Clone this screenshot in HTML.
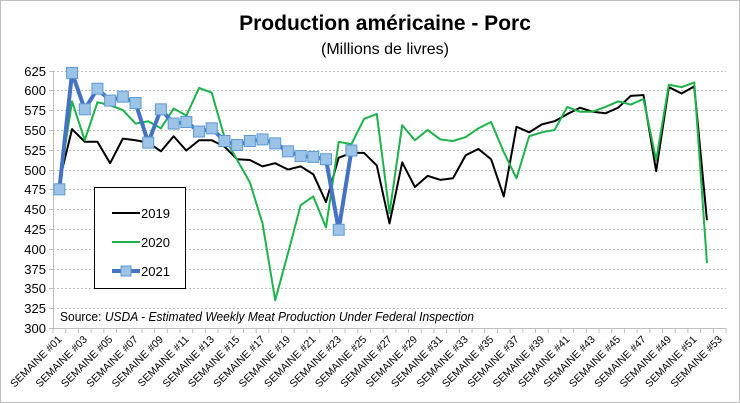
<!DOCTYPE html>
<html><head><meta charset="utf-8"><style>
body{margin:0;background:#fff}
svg{display:block;font-family:"Liberation Sans",sans-serif}
</style></head><body>
<svg id="c" width="740" height="403">
<rect x="0.5" y="0.5" width="739" height="402" fill="#fff" stroke="#bfbfbf"/>
<text x="385" y="30" text-anchor="middle" font-size="21" font-weight="bold">Production américaine - Porc</text>
<text x="385" y="54" text-anchor="middle" font-size="16">(Millions de livres)</text>
<g id="grid"></g><g id="axes"></g><g id="series"></g>
<text x="60" y="321" font-size="12.5" textLength="414" lengthAdjust="spacingAndGlyphs">Source: <tspan font-style="italic">USDA - Estimated Weekly Meat Production Under Federal Inspection</tspan></text>
<g>
<rect x="94.5" y="187.5" width="91" height="101" fill="#fff" stroke="#000"/>
<line x1="112" y1="213" x2="140" y2="213" stroke="#000" stroke-width="2"/>
<text x="141" y="218" font-size="13">2019</text>
<line x1="112" y1="242" x2="140" y2="242" stroke="#1db34a" stroke-width="2"/>
<text x="141" y="247" font-size="13">2020</text>
<line x1="112" y1="271" x2="140" y2="271" stroke="#4472c4" stroke-width="4"/>
<rect x="121" y="266" width="10" height="10" fill="#9dc3e6" stroke="#5b9bd5"/>
<text x="141" y="276" font-size="13">2021</text>
</g>
</svg>
<script>
const yTicks=[300,325,350,375,400,425,450,475,500,525,550,575,600,625];
const s2019=[485,551,535,535,508,539,537,534,523,542,524,537,537,529,513,512,504,508,500,504,494,459,515,521,521,505,432,509,478,492,487,489,518,526,513,466,554,547,557,561,570,578,573,571,578,593,594,498,604,596,605,436];
const s2020=[482,586,537,585,581,575,558,561,552,577,568,603,597,541,512,484,432,335,394,455,466,427,535,532,564,570,445,556,537,550,538,536,541,552,560,522,489,542,547,550,579,573,573,579,586,582,589,512,607,604,610,382];
const s2021=[475,622,576,602,587,592,584,534,576,558,560,548,552,536,531,536,538,533,523,517,516,513,424,524];
const nCat=53;
const X0=53,X1=726,Y0=328,Y1=70.5;
const xs=i=>X0+(i+0.5)*(X1-X0)/nCat;
const ys=v=>Y0-(v-300)/(625-300)*(Y0-Y1);
const NS='http://www.w3.org/2000/svg';
function mk(t,a,p){const e=document.createElementNS(NS,t);for(const k in a)e.setAttribute(k,a[k]);p.appendChild(e);return e;}
const grid=document.getElementById('grid'),axes=document.getElementById('axes'),ser=document.getElementById('series');
yTicks.forEach(v=>{
 const y=Math.round(ys(v))+0.5;
 if(v>300){const g=mk('line',{x1:X0,x2:X1,y1:y,y2:y,stroke:'#bfbfbf','stroke-dasharray':'2,2'},grid);
 
 }
 const t=mk('text',{x:46,y:y+4.5,'text-anchor':'end','font-size':13},axes);t.textContent=v;
 
 
 const tk=mk('line',{x1:X0-4,x2:X0,y1:y,y2:y,stroke:'#bfbfbf'},axes);
 
 
});
const ya=mk('line',{x1:X0+0.5,x2:X0+0.5,y1:Y1,y2:Y0,stroke:'#bfbfbf'},axes);


const xa=mk('line',{x1:X0,x2:X1,y1:Y0+0.5,y2:Y0+0.5,stroke:'#bfbfbf'},axes);


for(let i=0;i<=nCat;i++){const x=X0+i*(X1-X0)/nCat;
 const tk=mk('line',{x1:x,x2:x,y1:Y0,y2:Y0+5,stroke:'#bfbfbf'},axes);
 
 }
for(let i=0;i<nCat;i+=2){const x=xs(i)+3,y=Y0+12;
 const t=mk('text',{x:x,y:y,'text-anchor':'end','font-size':10.5,transform:`rotate(-45 ${x} ${y})`},axes);
 t.textContent='SEMAINE #'+String(i+1).padStart(2,'0');
 
 }
function line(d,col,w,name){const p=mk('polyline',{points:d.map((v,i)=>xs(i)+','+ys(v)).join(' '),fill:'none',stroke:col,'stroke-width':w,'stroke-linejoin':'round'},ser);
 
 }
line(s2019,'#000',2,'line-2019');
line(s2020,'#1db34a',2,'line-2020');
line(s2021,'#4472c4',4,'line-2021');
s2021.forEach((v,i)=>{const r=mk('rect',{x:xs(i)-5.5,y:ys(v)-5.5,width:11,height:11,fill:'#9dc3e6',stroke:'#5b9bd5'},ser);
 
 });
</script>
</body></html>
